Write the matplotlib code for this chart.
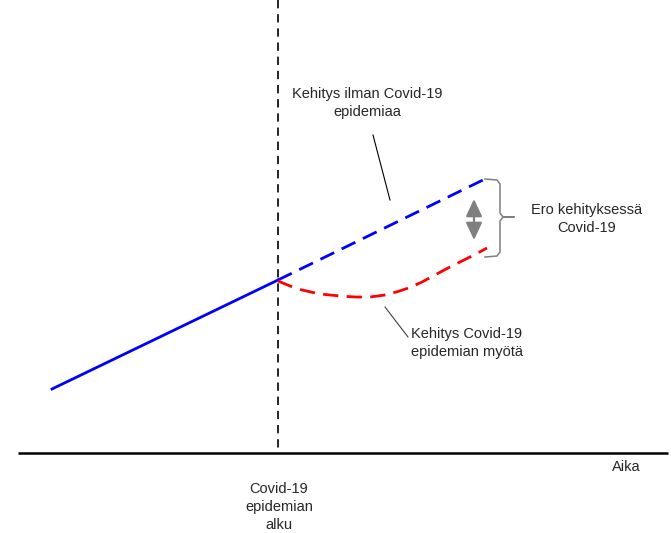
import matplotlib.pyplot as plt

plt.rcParams['font.family'] = ['Liberation Sans', 'DejaVu Sans']

# schematic, coordinates in picture units (y grows downward)
before_x = [52, 278]
before_y = [389, 280]

without_x = [278, 485]
without_y = [280, 179]

with_x = [278, 290, 300, 313, 325, 340, 355, 370, 385, 398, 410, 422, 435, 448, 462, 475, 487]
with_y = [281, 286, 289.5, 292.5, 294.5, 296, 297, 297, 295, 291.5, 287.5, 282, 275, 268, 261, 254.5, 248]

start_x = 278
axis_y = 453

fig = plt.figure(figsize=(6.71, 5.33), dpi=100)
ax = fig.add_axes([0, 0, 1, 1])
ax.set_xlim(0, 671)
ax.set_ylim(533, 0)
ax.axis('off')

# time axis
ax.plot([18, 668], [axis_y, axis_y], color='black', lw=1.8, solid_capstyle='butt')
ax.plot([start_x, start_x], [0, axis_y], color='black', lw=1.2, ls=(0, (5, 3.5)))

ax.plot(before_x, before_y, color='#0000ff', lw=2)
ax.plot(without_x, without_y, color='#0000ff', lw=2, ls=(0, (5.5, 3)))
ax.plot(with_x, with_y, color='#ff0000', lw=2, ls=(0, (5.5, 3)))

# brace
brace_x = [485, 497, 500, 500, 503, 514, 503, 500, 500, 497, 485]
brace_y = [179, 180, 184, 213, 217, 217, 217, 221, 252, 256, 257]
ax.plot(brace_x, brace_y, color='#7f7f7f', lw=1.1)

# double arrow
ax.annotate('', xy=(474, 199), xytext=(474, 240),
            arrowprops=dict(arrowstyle='<|-|>,head_length=0.75,head_width=0.35',
                            mutation_scale=14, color='#7f7f7f', lw=1.6,
                            shrinkA=0, shrinkB=0))

# leader lines
ax.plot([373, 390], [135, 200], color='black', lw=0.8)
ax.plot([385, 408], [307, 337], color='#404040', lw=0.8)

fs = 10.5
tc = '#262626'
ax.text(367, 103, 'Kehitys ilman Covid-19\nepidemiaa', ha='center', va='center',
        fontsize=fs, color=tc, linespacing=1.35)
ax.text(587, 219, 'Ero kehityksessä\nCovid-19', ha='center', va='center',
        fontsize=fs, color=tc, linespacing=1.35)
ax.text(467, 343, 'Kehitys Covid-19\nepidemian myötä', ha='center', va='center',
        fontsize=fs, color=tc, linespacing=1.35)
ax.text(626, 467, 'Aika', ha='center', va='center', fontsize=fs, color=tc)
ax.text(279, 507, 'Covid-19\nepidemian\nalku', ha='center', va='center',
        fontsize=fs, color=tc, linespacing=1.35)

fig.savefig('out.png', dpi=100)
